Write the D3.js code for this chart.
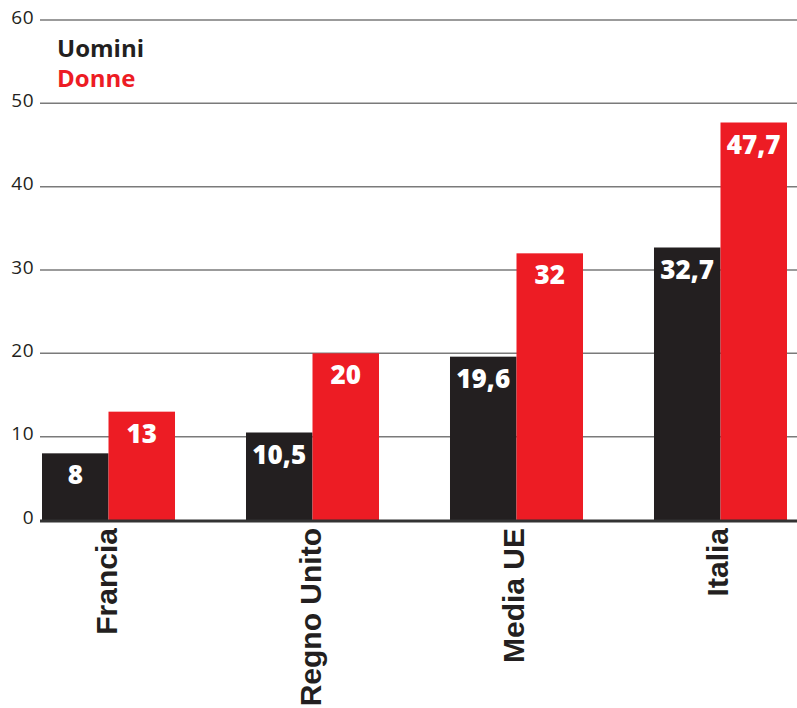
<!DOCTYPE html>
<html>
<head>
<meta charset="utf-8">
<script src="https://cdn.jsdelivr.net/npm/d3@7"></script>
<style>
  body { margin: 0; background: #fff; }
  svg { display: block; }
</style>
</head>
<body>
<div id="chart"></div>
<script>
const categories = ["Francia", "Regno Unito", "Media UE", "Italia"]
const series = ["Uomini", "Donne"]
const uomini = [8, 10.5, 19.6, 32.7]
const donne = [13, 20, 32, 47.7]
const yTicks = [0, 10, 20, 30, 40, 50, 60]

const COLORS = { Uomini: "#231f20", Donne: "#ed1c24" }

const width = 797
const height = 708

const svg = d3.select("#chart")
  .append("svg")
  .attr("width", width)
  .attr("height", height)

const y = d3.scaleLinear().domain([0, 60]).range([520, 20])

const x0 = d3.scaleBand()
  .domain(categories)
  .range([42, 787])
  .paddingInner(0.348)
  .paddingOuter(0)

const x1 = d3.scaleBand()
  .domain(series)
  .range([0, x0.bandwidth()])

const rows = categories.map((c, i) => ({ cat: c, Uomini: uomini[i], Donne: donne[i] }))

// gridlines + tick labels
const grid = svg.append("g")
grid.selectAll("line")
  .data(yTicks.filter(t => t > 0))
  .join("line")
  .attr("x1", 40)
  .attr("x2", width)
  .attr("y1", d => y(d))
  .attr("y2", d => y(d))
  .attr("stroke", "#7a7a7a")
  .attr("stroke-width", 1.5)

grid.selectAll("text")
  .data(yTicks)
  .join("text")
  .attr("x", 34)
  .attr("y", d => y(d) - 3)
  .attr("dy", "0.35em")
  .attr("text-anchor", "end")
  .style("font-family", "'Open Sans', sans-serif")
  .style("font-size", "19px")
  .style("letter-spacing", "0.5px")
  .style("fill", "#231f20")
  .text(d => d)

// bars
const groups = svg.append("g")
  .selectAll("g")
  .data(rows)
  .join("g")
  .attr("transform", d => `translate(${x0(d.cat)},0)`)

groups.selectAll("rect")
  .data(d => series.map(s => ({ key: s, value: d[s] })))
  .join("rect")
  .attr("x", d => x1(d.key))
  .attr("width", x1.bandwidth())
  .attr("y", d => y(d.value))
  .attr("height", d => y(0) - y(d.value))
  .attr("fill", d => COLORS[d.key])

groups.selectAll("text")
  .data(d => series.map(s => ({ key: s, value: d[s] })))
  .join("text")
  .attr("x", d => x1(d.key) + x1.bandwidth() / 2)
  .attr("y", d => y(d.value) + 31)
  .attr("text-anchor", "middle")
  .style("font-family", "'Open Sans', sans-serif")
  .style("font-weight", 800)
  .style("font-size", "26px")
  .style("fill", "#fff")
  .text(d => String(d.value).replace(".", ","))

// baseline
svg.append("line")
  .attr("x1", 40)
  .attr("x2", width)
  .attr("y1", y(0) + 1)
  .attr("y2", y(0) + 1)
  .attr("stroke", "#333")
  .attr("stroke-width", 3)

// category labels
svg.append("g")
  .selectAll("text")
  .data(categories)
  .join("text")
  .attr("transform", d => `translate(${x0(d) + x0.bandwidth() / 2 + 8},528) rotate(-90)`)
  .attr("text-anchor", "end")
  .style("font-family", "'Liberation Sans', Arial, sans-serif")
  .style("font-weight", "bold")
  .style("font-size", "30px")
  .style("fill", "#231f20")
  .text(d => d)

// legend
svg.append("g")
  .selectAll("text")
  .data(series)
  .join("text")
  .attr("x", 57)
  .attr("y", (d, i) => 57 + i * 30)
  .style("font-family", "'Open Sans', sans-serif")
  .style("font-weight", 700)
  .style("font-size", "24px")
  .style("fill", d => COLORS[d])
  .text(d => d)
</script>
</body>
</html>
